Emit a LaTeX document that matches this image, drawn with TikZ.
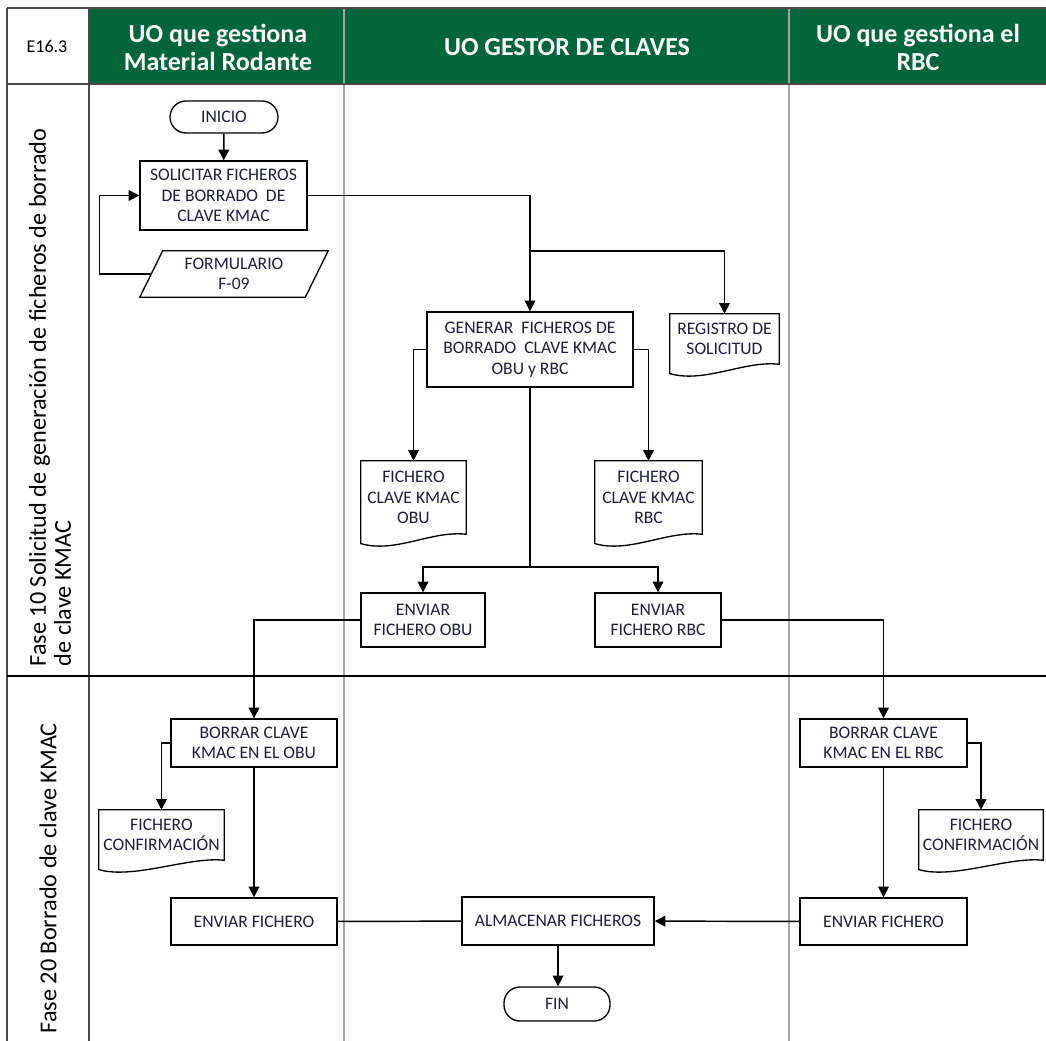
\documentclass[tikz,border=0pt]{standalone}
\usepackage{fontspec}
\setmainfont{Carlito}
\newfontfamily\boxfont{Carlito}
\usetikzlibrary{arrows.meta}
\definecolor{LaneGreen}{HTML}{03663A}
\definecolor{LaneGrey}{HTML}{A6A6A6}
\definecolor{FrameGrey}{HTML}{4A4A4A}
\definecolor{BoxInk}{HTML}{1E1E3C}

\begin{document}
\begin{tikzpicture}[x=0.75pt,y=-0.75pt,>={Triangle[width=8pt,length=8pt]},
  box/.style={draw,line width=1pt,fill=white,align=center,inner sep=2pt,
    font=\boxfont\fontsize{13.2}{15.2}\selectfont,text=BoxInk},
  term/.style={box,rounded corners=12pt},
  doc/.style={align=center,inner sep=2pt,
    font=\boxfont\fontsize{13.2}{15.2}\selectfont,text=BoxInk},
  lane/.style={font=\bfseries\fontsize{19.5}{21}\selectfont,text=white,align=center},
  phase/.style={rotate=90,anchor=west,align=left,font=\fontsize{18.2}{18.8}\selectfont},
  flow/.style={->,line width=1.1pt},
  link/.style={line width=1.1pt}]
  \useasboundingbox (0,0) rectangle (1046,1041);
  % header and lanes
  \fill[LaneGreen] (89,8) rectangle (1046,84);
  \draw[LaneGrey,line width=1.5pt] (344,8) -- (344,1041);
  \draw[LaneGrey,line width=1.5pt] (789,8) -- (789,1041);
  \draw[FrameGrey,line width=1.2pt] (7,8) -- (1046,8);
  \draw[FrameGrey,line width=1.2pt] (7,8) -- (7,1041);
  \draw[FrameGrey,line width=1.5pt] (89,8) -- (89,1041);
  \draw[FrameGrey,line width=1.2pt] (7,84) -- (1046,84);
  \draw[line width=0.8pt] (7,676) -- (1046,676);
  \node[font=\fontsize{13.5}{15}\selectfont] (h0) at (47,46) {E16.3};
  \node[lane] (h1) at (218,47) {UO que gestiona\\Material Rodante};
  \node[lane] (h2) at (567,47) {UO GESTOR DE CLAVES};
  \node[lane] (h3) at (918,47) {UO que gestiona el\\RBC};
  \node[phase] (p1) at (50,671) {Fase 10 Solicitud de generación de ficheros de borrado\\de clave KMAC};
  \node[phase] (p2) at (48,1038) {Fase 20 Borrado de clave KMAC};

  % phase 10
  \node[term,minimum width=81pt,minimum height=24pt] (ini) at (224,117) {INICIO};
  \node[box,minimum width=125.25pt,minimum height=51.75pt] (soli) at (223.5,195.5) {SOLICITAR FICHEROS\\DE BORRADO\ \ DE\\CLAVE KMAC};
  \node[doc,minimum width=123.75pt,minimum height=34.5pt] (formu) at (234,274) {FORMULARIO\\F-09};
  \draw[line width=1pt] ([xshift=-8.6pt]formu.south west) -- ([xshift=8.6pt]formu.north west)
    -- ([xshift=8.6pt]formu.north east) -- ([xshift=-8.6pt]formu.south east) -- cycle;
  \node[box,minimum width=154.5pt,minimum height=56.25pt] (gen) at (530,349.5) {GENERAR\ \ FICHEROS DE\\BORRADO\ \ CLAVE KMAC\\OBU\ y\ RBC};
  \node[doc,minimum width=81.75pt,minimum height=37.5pt] (reg) at (724.5,339) {REGISTRO DE\\SOLICITUD};
  \node[doc,minimum width=78.75pt,minimum height=54.75pt] (fobu) at (413.5,497.5) {FICHERO\\CLAVE KMAC\\OBU};
  \node[doc,minimum width=80.25pt,minimum height=54.75pt] (frbc) at (648.5,497.5) {FICHERO\\CLAVE KMAC\\RBC};
  \node[box,minimum width=93pt,minimum height=40.5pt] (eobu) at (423,620) {ENVIAR\\FICHERO\ OBU};
  \node[box,minimum width=94.5pt,minimum height=40.5pt] (erbc) at (658,620) {ENVIAR\\FICHERO\ RBC};

  % phase 20
  \node[box,minimum width=124.5pt,minimum height=36pt] (bobu) at (254,743) {BORRAR\ CLAVE\\KMAC\ EN\ EL OBU};
  \node[doc,minimum width=93.75pt,minimum height=37.5pt] (fcl) at (161.5,835) {FICHERO\\CONFIRMACIÓN};
  \node[box,minimum width=124.5pt,minimum height=35.25pt] (envl) at (254,921.5) {ENVIAR FICHERO};
  \node[box,minimum width=144pt,minimum height=36pt] (alm) at (558,921) {ALMACENAR\ FICHEROS};
  \node[term,minimum width=79.5pt,minimum height=25.5pt] (fin) at (557,1004) {FIN};
  \node[box,minimum width=125.25pt,minimum height=36pt] (brbc) at (883.5,743) {BORRAR\ CLAVE\\KMAC\ EN\ EL RBC};
  \node[doc,minimum width=93pt,minimum height=37.5pt] (fcr) at (981,835) {FICHERO\\CONFIRMACIÓN};
  \node[box,minimum width=125.25pt,minimum height=35.25pt] (envr) at (883.5,921.5) {ENVIAR FICHERO};

  % document sheets
  \foreach \d in {reg,fobu,frbc,fcl,fcr}
    \draw[line width=1pt] (\d.north west) -- (\d.north east) -- (\d.south east)
      .. controls +(-35,-4) and +(35,10) .. ([yshift=-7pt]\d.south west) -- cycle;

  \coordinate (j1) at (530,251);
  \coordinate (j2) at (530,567);

  % connectors
  \draw[flow] (ini) -- (soli);
  \draw[flow] (formu.west) -- ++(-51.5,0) |- (soli.west);
  \draw[flow] (soli.east) -| (gen.north);
  \draw[flow] (j1) -| (reg.north);
  \draw[flow] (gen.west) -| (fobu.north);
  \draw[flow] (gen.east) -| (frbc.north);
  \draw[link] (gen.south) -- (j2);
  \draw[flow] (j2) -| (eobu.north);
  \draw[flow] (j2) -| (erbc.north);
  \draw[flow] (eobu.west) -| (bobu.north);
  \draw[flow] (erbc.east) -| (brbc.north);
  \draw[flow] (bobu.west) -| (fcl.north);
  \draw[flow] (bobu) -- (envl);
  \draw[flow] (brbc.east) -| (fcr.north);
  \draw[flow] (brbc) -- (envr);
  \draw[link] (envl) -- (alm);
  \draw[flow] (envr) -- (alm);
  \draw[flow] (alm.south) -- (alm.south |- fin.north);
\end{tikzpicture}
\end{document}
